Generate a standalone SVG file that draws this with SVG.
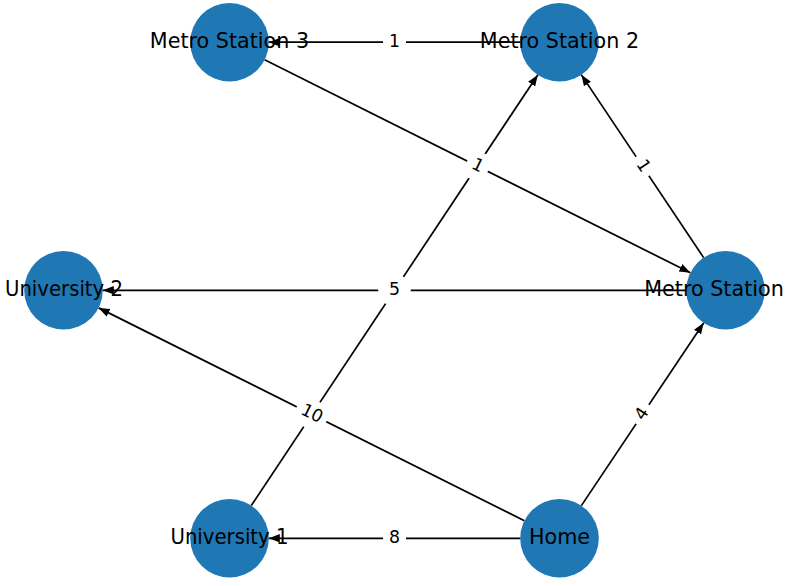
<svg xmlns="http://www.w3.org/2000/svg" width="790" height="586" viewBox="0 0 790 586">
<style>
.node circle{fill:#1f77b4;}
.node text{font-family:"DejaVu Sans",sans-serif;font-size:20.7px;fill:#000;text-anchor:middle;}
.edge{stroke:#000;stroke-width:1.7;fill:none;marker-end:url(#arr);}
.lbl rect{fill:#fff;stroke:#fff;}
.lbl text{font-family:"DejaVu Sans",sans-serif;font-size:17.3px;fill:#000;text-anchor:middle;}
</style>
<defs>
<marker id="arr" markerUnits="userSpaceOnUse" markerWidth="12" markerHeight="10" viewBox="0 -5 12 10" refX="11" refY="0" orient="auto">
<path d="M0,-4.2 L11,0 L0,4.2 z" fill="#000"/>
</marker>
</defs>
<rect width="790" height="586" fill="#fff"/>
<g id="nodes-circles">
<g id="node-ms3" class="node"><circle cx="229.5" cy="42.2" r="39.3"/></g>
<g id="node-ms2" class="node"><circle cx="559.5" cy="42.2" r="39.3"/></g>
<g id="node-u2" class="node"><circle cx="63.5" cy="290.3" r="39.3"/></g>
<g id="node-ms" class="node"><circle cx="725.5" cy="290.3" r="39.3"/></g>
<g id="node-u1" class="node"><circle cx="229.5" cy="538.3" r="39.3"/></g>
<g id="node-home" class="node"><circle cx="559.5" cy="538.3" r="39.3"/></g>
</g>
<g id="connectors">
<line class="edge" x1="520.2" y1="42.2" x2="268.8" y2="42.2"/>
<line class="edge" x1="264.65" y1="59.78" x2="690.35" y2="272.72"/>
<line class="edge" x1="703.64" y1="257.64" x2="581.36" y2="74.86"/>
<line class="edge" x1="686.2" y1="290.3" x2="102.8" y2="290.3"/>
<line class="edge" x1="524.35" y1="520.72" x2="98.65" y2="307.88"/>
<line class="edge" x1="251.27" y1="505.58" x2="537.73" y2="74.92"/>
<line class="edge" x1="581.36" y1="505.64" x2="703.64" y2="322.96"/>
<line class="edge" x1="520.2" y1="538.3" x2="268.8" y2="538.3"/>
</g>
<g id="edge-labels">
<g class="lbl" transform="translate(394.5,290.25) rotate(-56.37)"><rect x="-11" y="-14" width="22" height="28" rx="5"/></g>
<g class="lbl" transform="translate(394.5,42.2)"><rect x="-11" y="-14" width="22" height="28" rx="5"/><text y="4.5">1</text></g>
<g class="lbl" transform="translate(477.5,166.25) rotate(26.57)"><rect x="-11" y="-14" width="22" height="28" rx="5"/><text y="4.5">1</text></g>
<g class="lbl" transform="translate(642.5,166.25) rotate(56.2)"><rect x="-11" y="-14" width="22" height="28" rx="5"/><text y="4.5">1</text></g>
<g class="lbl" transform="translate(394.5,290.3)"><rect x="-11" y="-14" width="22" height="28" rx="5"/><text y="4.5">5</text></g>
<g class="lbl" transform="translate(311.5,414.3) rotate(26.57)"><rect x="-16" y="-14" width="32" height="28" rx="5"/><text y="4.5">10</text></g>
<g class="lbl" transform="translate(642.5,414.3) rotate(-56.2)"><rect x="-11" y="-14" width="22" height="28" rx="5"/><text y="4.5">4</text></g>
<g class="lbl" transform="translate(394.5,538.3)"><rect x="-11" y="-14" width="22" height="28" rx="5"/><text y="4.5">8</text></g>
</g>
<g id="node-labels">
<g id="label-ms3" class="node"><text x="229.5" y="47.9">Metro Station 3</text></g>
<g id="label-ms2" class="node"><text x="559.5" y="47.9">Metro Station 2</text></g>
<g id="label-u2" class="node"><text x="64" y="296" textLength="118" lengthAdjust="spacingAndGlyphs">University 2</text></g>
<g id="label-ms" class="node"><text x="714" y="296">Metro Station</text></g>
<g id="label-u1" class="node"><text x="229.5" y="544" textLength="118" lengthAdjust="spacingAndGlyphs">University 1</text></g>
<g id="label-home" class="node"><text x="559.5" y="544">Home</text></g>
</g>
</svg>
